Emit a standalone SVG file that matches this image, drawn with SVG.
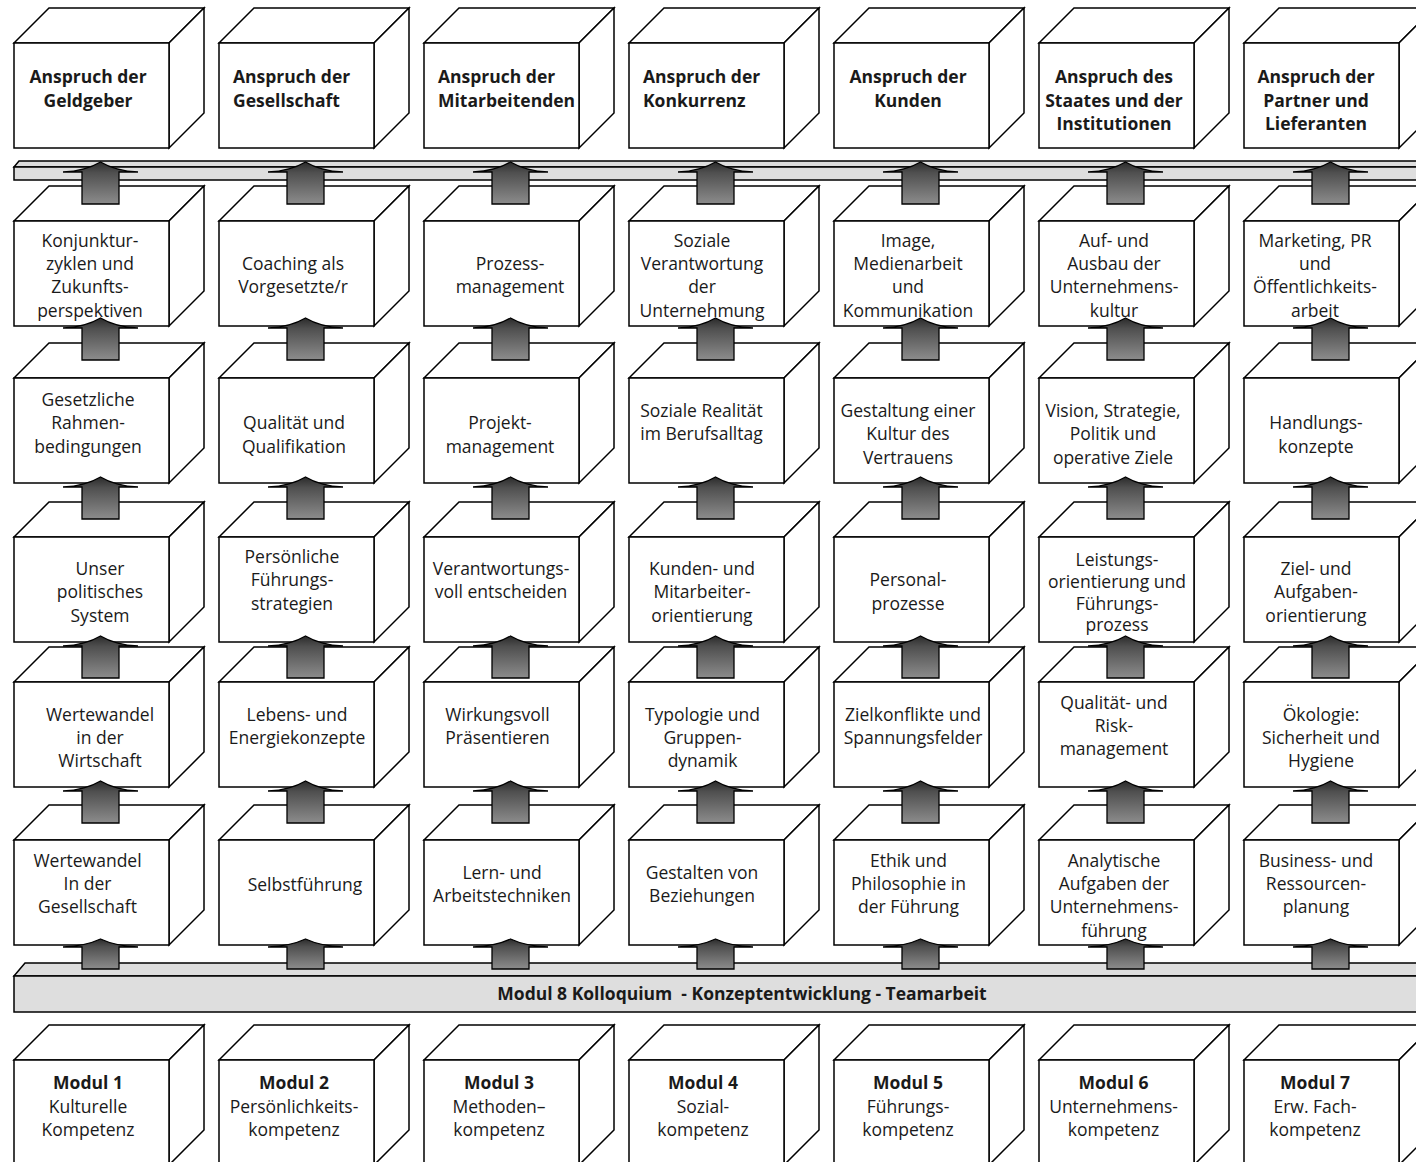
<svg xmlns="http://www.w3.org/2000/svg" xmlns:xlink="http://www.w3.org/1999/xlink" width="1416" height="1162" viewBox="0 0 1416 1162">
<style>
.face{fill:#fff;stroke:#000;stroke-width:1.5;stroke-linejoin:miter}
.bar{fill:#dedede;stroke:#000;stroke-width:1.5}
.t{font-family:"Open Sans","Noto Sans","Liberation Sans",sans-serif;font-size:17.5px;fill:#1a1a1a;text-anchor:middle}
.b{font-weight:700}
.l{text-anchor:start}
.arr{fill:url(#ag);stroke:#000;stroke-width:1.3;stroke-linejoin:miter}
</style>
<defs>
<linearGradient id="ag" x1="0" y1="0" x2="0" y2="1">
<stop offset="0" stop-color="#2b2b2b"/>
<stop offset="0.25" stop-color="#4f4f4f"/>
<stop offset="1" stop-color="#8c8c8c"/>
</linearGradient>
<g id="box">
<path class="face" d="M0,0 L35,-35 L190,-35 L155,0 Z"/>
<path class="face" d="M155,0 L190,-35 L190,70 L155,105 Z"/>
<rect class="face" x="0" y="0" width="155" height="105"/>
</g>
<path id="arr" class="arr" d="M0,0 Q15,9 37.5,10 H18.5 V42 H-18.5 V10 H-37.5 Q-15,9 0,0 Z"/>
<path id="arrS" class="arr" d="M0,0 Q15,7 37.5,8 H18.5 V30 H-18.5 V8 H-37.5 Q-15,7 0,0 Z"/>
</defs>

<!-- Row 0: Ansprüche -->
<g id="n-r0c1"><use href="#box" x="14" y="43"/><text class="t b"><tspan x="88" y="83">Anspruch der</tspan><tspan x="88" y="106.5">Geldgeber</tspan></text></g>
<g id="n-r0c2"><use href="#box" x="219" y="43"/><text class="t b l"><tspan x="233" y="83">Anspruch der</tspan><tspan x="233" y="106.5">Gesellschaft</tspan></text></g>
<g id="n-r0c3"><use href="#box" x="424" y="43"/><text class="t b l"><tspan x="438" y="83">Anspruch der</tspan><tspan x="438" y="106.5">Mitarbeitenden</tspan></text></g>
<g id="n-r0c4"><use href="#box" x="629" y="43"/><text class="t b l"><tspan x="643" y="83">Anspruch der</tspan><tspan x="643" y="106.5">Konkurrenz</tspan></text></g>
<g id="n-r0c5"><use href="#box" x="834" y="43"/><text class="t b"><tspan x="908" y="83">Anspruch der</tspan><tspan x="908" y="106.5">Kunden</tspan></text></g>
<g id="n-r0c6"><use href="#box" x="1039" y="43"/><text class="t b"><tspan x="1114" y="83">Anspruch des</tspan><tspan x="1114" y="106.5">Staates und der</tspan><tspan x="1114" y="130">Institutionen</tspan></text></g>
<g id="n-r0c7"><use href="#box" x="1244" y="43"/><text class="t b"><tspan x="1316" y="83">Anspruch der</tspan><tspan x="1316" y="106.5">Partner und</tspan><tspan x="1316" y="130">Lieferanten</tspan></text></g>

<!-- Top bar -->
<g id="bar-top">
<path class="bar" d="M14,167 L19,161 L1430,161 L1425,167 Z"/>
<rect class="bar" x="14" y="167" width="1420" height="13"/>
</g>

<!-- Row 1 -->
<g id="n-r1c1"><use href="#box" x="14" y="221"/><text class="t"><tspan x="90" y="246.7">Konjunktur-</tspan><tspan x="90" y="270">zyklen und</tspan><tspan x="90" y="293.3">Zukunfts-</tspan><tspan x="90" y="316.6">perspektiven</tspan></text></g>
<g id="n-r1c2"><use href="#box" x="219" y="221"/><text class="t"><tspan x="293" y="270">Coaching als</tspan><tspan x="293" y="293.3">Vorgesetzte/r</tspan></text></g>
<g id="n-r1c3"><use href="#box" x="424" y="221"/><text class="t"><tspan x="510" y="270">Prozess-</tspan><tspan x="510" y="293.3">management</tspan></text></g>
<g id="n-r1c4"><use href="#box" x="629" y="221"/><text class="t"><tspan x="702" y="246.7">Soziale</tspan><tspan x="702" y="270">Verantwortung</tspan><tspan x="702" y="293.3">der</tspan><tspan x="702" y="316.6">Unternehmung</tspan></text></g>
<g id="n-r1c5"><use href="#box" x="834" y="221"/><text class="t"><tspan x="908" y="246.7">Image,</tspan><tspan x="908" y="270">Medienarbeit</tspan><tspan x="908" y="293.3">und</tspan><tspan x="908" y="316.6">Kommunikation</tspan></text></g>
<g id="n-r1c6"><use href="#box" x="1039" y="221"/><text class="t"><tspan x="1114" y="246.7">Auf- und</tspan><tspan x="1114" y="270">Ausbau der</tspan><tspan x="1114" y="293.3">Unternehmens-</tspan><tspan x="1114" y="316.6">kultur</tspan></text></g>
<g id="n-r1c7"><use href="#box" x="1244" y="221"/><text class="t"><tspan x="1315" y="246.7">Marketing, PR</tspan><tspan x="1315" y="270">und</tspan><tspan x="1315" y="293.3">Öffentlichkeits-</tspan><tspan x="1315" y="316.6">arbeit</tspan></text></g>

<!-- Row 2 -->
<g id="n-r2c1"><use href="#box" x="14" y="378"/><text class="t"><tspan x="88" y="406">Gesetzliche</tspan><tspan x="88" y="429.3">Rahmen-</tspan><tspan x="88" y="452.7">bedingungen</tspan></text></g>
<g id="n-r2c2"><use href="#box" x="219" y="378"/><text class="t"><tspan x="294" y="429.3">Qualität und</tspan><tspan x="294" y="452.7">Qualifikation</tspan></text></g>
<g id="n-r2c3"><use href="#box" x="424" y="378"/><text class="t"><tspan x="500" y="429.3">Projekt-</tspan><tspan x="500" y="452.7">management</tspan></text></g>
<g id="n-r2c4"><use href="#box" x="629" y="378"/><text class="t"><tspan x="701.5" y="417">Soziale Realität</tspan><tspan x="701.5" y="440.3">im Berufsalltag</tspan></text></g>
<g id="n-r2c5"><use href="#box" x="834" y="378"/><text class="t"><tspan x="908" y="417">Gestaltung einer</tspan><tspan x="908" y="440.3">Kultur des</tspan><tspan x="908" y="463.6">Vertrauens</tspan></text></g>
<g id="n-r2c6"><use href="#box" x="1039" y="378"/><text class="t"><tspan x="1113" y="417">Vision, Strategie,</tspan><tspan x="1113" y="440.3">Politik und</tspan><tspan x="1113" y="463.6">operative Ziele</tspan></text></g>
<g id="n-r2c7"><use href="#box" x="1244" y="378"/><text class="t"><tspan x="1316" y="429.3">Handlungs-</tspan><tspan x="1316" y="452.7">konzepte</tspan></text></g>

<!-- Row 3 -->
<g id="n-r3c1"><use href="#box" x="14" y="537"/><text class="t"><tspan x="100" y="575">Unser</tspan><tspan x="100" y="598.3">politisches</tspan><tspan x="100" y="621.7">System</tspan></text></g>
<g id="n-r3c2"><use href="#box" x="219" y="537"/><text class="t"><tspan x="292" y="563">Persönliche</tspan><tspan x="292" y="586.3">Führungs-</tspan><tspan x="292" y="609.6">strategien</tspan></text></g>
<g id="n-r3c3"><use href="#box" x="424" y="537"/><text class="t"><tspan x="501" y="575">Verantwortungs-</tspan><tspan x="501" y="598.3">voll entscheiden</tspan></text></g>
<g id="n-r3c4"><use href="#box" x="629" y="537"/><text class="t"><tspan x="702" y="575">Kunden- und</tspan><tspan x="702" y="598.3">Mitarbeiter-</tspan><tspan x="702" y="621.7">orientierung</tspan></text></g>
<g id="n-r3c5"><use href="#box" x="834" y="537"/><text class="t"><tspan x="908" y="586.3">Personal-</tspan><tspan x="908" y="609.6">prozesse</tspan></text></g>
<g id="n-r3c6"><use href="#box" x="1039" y="537"/><text class="t"><tspan x="1117" y="565.6">Leistungs-</tspan><tspan x="1117" y="587.5">orientierung und</tspan><tspan x="1117" y="609.5">Führungs-</tspan><tspan x="1117" y="631">prozess</tspan></text></g>
<g id="n-r3c7"><use href="#box" x="1244" y="537"/><text class="t"><tspan x="1316" y="575">Ziel- und</tspan><tspan x="1316" y="598.3">Aufgaben-</tspan><tspan x="1316" y="621.7">orientierung</tspan></text></g>

<!-- Row 4 -->
<g id="n-r4c1"><use href="#box" x="14" y="682"/><text class="t"><tspan x="100" y="721">Wertewandel</tspan><tspan x="100" y="744">in der</tspan><tspan x="100" y="767">Wirtschaft</tspan></text></g>
<g id="n-r4c2"><use href="#box" x="219" y="682"/><text class="t"><tspan x="297" y="721">Lebens- und</tspan><tspan x="297" y="744">Energiekonzepte</tspan></text></g>
<g id="n-r4c3"><use href="#box" x="424" y="682"/><text class="t"><tspan x="497.5" y="721">Wirkungsvoll</tspan><tspan x="497.5" y="744">Präsentieren</tspan></text></g>
<g id="n-r4c4"><use href="#box" x="629" y="682"/><text class="t"><tspan x="702.5" y="721">Typologie und</tspan><tspan x="702.5" y="744">Gruppen-</tspan><tspan x="702.5" y="767">dynamik</tspan></text></g>
<g id="n-r4c5"><use href="#box" x="834" y="682"/><text class="t"><tspan x="913" y="721">Zielkonflikte und</tspan><tspan x="913" y="744">Spannungsfelder</tspan></text></g>
<g id="n-r4c6"><use href="#box" x="1039" y="682"/><text class="t"><tspan x="1114" y="709">Qualität- und</tspan><tspan x="1114" y="732">Risk-</tspan><tspan x="1114" y="755">management</tspan></text></g>
<g id="n-r4c7"><use href="#box" x="1244" y="682"/><text class="t"><tspan x="1321" y="721">Ökologie:</tspan><tspan x="1321" y="744">Sicherheit und</tspan><tspan x="1321" y="767">Hygiene</tspan></text></g>

<!-- Row 5 -->
<g id="n-r5c1"><use href="#box" x="14" y="840"/><text class="t"><tspan x="87.5" y="866.7">Wertewandel</tspan><tspan x="87.5" y="890">In der</tspan><tspan x="87.5" y="913.3">Gesellschaft</tspan></text></g>
<g id="n-r5c2"><use href="#box" x="219" y="840"/><text class="t"><tspan x="305" y="890.5">Selbstführung</tspan></text></g>
<g id="n-r5c3"><use href="#box" x="424" y="840"/><text class="t"><tspan x="502" y="879">Lern- und</tspan><tspan x="502" y="902.3">Arbeitstechniken</tspan></text></g>
<g id="n-r5c4"><use href="#box" x="629" y="840"/><text class="t"><tspan x="702" y="879">Gestalten von</tspan><tspan x="702" y="902.3">Beziehungen</tspan></text></g>
<g id="n-r5c5"><use href="#box" x="834" y="840"/><text class="t"><tspan x="908.5" y="866.7">Ethik und</tspan><tspan x="908.5" y="890">Philosophie in</tspan><tspan x="908.5" y="913.3">der Führung</tspan></text></g>
<g id="n-r5c6"><use href="#box" x="1039" y="840"/><text class="t"><tspan x="1114" y="866.7">Analytische</tspan><tspan x="1114" y="890">Aufgaben der</tspan><tspan x="1114" y="913.3">Unternehmens-</tspan><tspan x="1114" y="936.6">führung</tspan></text></g>
<g id="n-r5c7"><use href="#box" x="1244" y="840"/><text class="t"><tspan x="1316" y="866.7">Business- und</tspan><tspan x="1316" y="890">Ressourcen-</tspan><tspan x="1316" y="913.3">planung</tspan></text></g>

<!-- Bottom bar -->
<g id="bar-modul8">
<path class="bar" d="M14,976 L25,963 L1440,963 L1429,976 Z"/>
<rect class="bar" x="14" y="976" width="1420" height="36"/>
<text class="t b" x="742" y="999.5" xml:space="preserve">Modul 8 Kolloquium  - Konzeptentwicklung - Teamarbeit</text>
</g>

<!-- Row 6: Module -->
<g id="n-m1"><use href="#box" x="14" y="1060"/><text class="t"><tspan class="b" x="88" y="1089">Modul 1</tspan><tspan x="88" y="1112.5">Kulturelle</tspan><tspan x="88" y="1136">Kompetenz</tspan></text></g>
<g id="n-m2"><use href="#box" x="219" y="1060"/><text class="t"><tspan class="b" x="294" y="1089">Modul 2</tspan><tspan x="294" y="1112.5">Persönlichkeits-</tspan><tspan x="294" y="1136">kompetenz</tspan></text></g>
<g id="n-m3"><use href="#box" x="424" y="1060"/><text class="t"><tspan class="b" x="499" y="1089">Modul 3</tspan><tspan x="499" y="1112.5">Methoden–</tspan><tspan x="499" y="1136">kompetenz</tspan></text></g>
<g id="n-m4"><use href="#box" x="629" y="1060"/><text class="t"><tspan class="b" x="703" y="1089">Modul 4</tspan><tspan x="703" y="1112.5">Sozial-</tspan><tspan x="703" y="1136">kompetenz</tspan></text></g>
<g id="n-m5"><use href="#box" x="834" y="1060"/><text class="t"><tspan class="b" x="908" y="1089">Modul 5</tspan><tspan x="908" y="1112.5">Führungs-</tspan><tspan x="908" y="1136">kompetenz</tspan></text></g>
<g id="n-m6"><use href="#box" x="1039" y="1060"/><text class="t"><tspan class="b" x="1113.5" y="1089">Modul 6</tspan><tspan x="1113.5" y="1112.5">Unternehmens-</tspan><tspan x="1113.5" y="1136">kompetenz</tspan></text></g>
<g id="n-m7"><use href="#box" x="1244" y="1060"/><text class="t"><tspan class="b" x="1315" y="1089">Modul 7</tspan><tspan x="1315" y="1112.5">Erw. Fach-</tspan><tspan x="1315" y="1136">kompetenz</tspan></text></g>

<!-- Connectors -->
<g id="connectors">
<use href="#arr" x="100.5" y="162"/><use href="#arr" x="305.5" y="162"/><use href="#arr" x="510.5" y="162"/><use href="#arr" x="715.5" y="162"/><use href="#arr" x="920.5" y="162"/><use href="#arr" x="1125.5" y="162"/><use href="#arr" x="1330.5" y="162"/>
<use href="#arr" x="100.5" y="318"/><use href="#arr" x="305.5" y="318"/><use href="#arr" x="510.5" y="318"/><use href="#arr" x="715.5" y="318"/><use href="#arr" x="920.5" y="318"/><use href="#arr" x="1125.5" y="318"/><use href="#arr" x="1330.5" y="318"/>
<use href="#arr" x="100.5" y="477"/><use href="#arr" x="305.5" y="477"/><use href="#arr" x="510.5" y="477"/><use href="#arr" x="715.5" y="477"/><use href="#arr" x="920.5" y="477"/><use href="#arr" x="1125.5" y="477"/><use href="#arr" x="1330.5" y="477"/>
<use href="#arr" x="100.5" y="636"/><use href="#arr" x="305.5" y="636"/><use href="#arr" x="510.5" y="636"/><use href="#arr" x="715.5" y="636"/><use href="#arr" x="920.5" y="636"/><use href="#arr" x="1125.5" y="636"/><use href="#arr" x="1330.5" y="636"/>
<use href="#arr" x="100.5" y="781"/><use href="#arr" x="305.5" y="781"/><use href="#arr" x="510.5" y="781"/><use href="#arr" x="715.5" y="781"/><use href="#arr" x="920.5" y="781"/><use href="#arr" x="1125.5" y="781"/><use href="#arr" x="1330.5" y="781"/>
<use href="#arrS" x="100.5" y="939"/><use href="#arrS" x="305.5" y="939"/><use href="#arrS" x="510.5" y="939"/><use href="#arrS" x="715.5" y="939"/><use href="#arrS" x="920.5" y="939"/><use href="#arrS" x="1125.5" y="939"/><use href="#arrS" x="1330.5" y="939"/>
</g>
</svg>
